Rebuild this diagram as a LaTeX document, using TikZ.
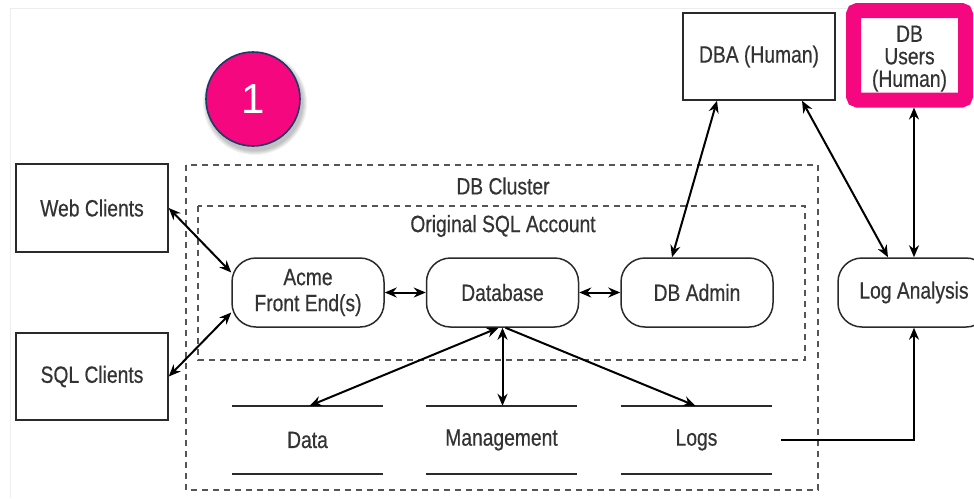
\documentclass[tikz,border=0pt]{standalone}
\usepackage{fontspec}
\setmainfont[FakeStretch=0.82,FakeBold=0.5]{Liberation Sans}
\newfontfamily\digitfont{Liberation Sans}
\usetikzlibrary{arrows.meta}
\definecolor{ink}{HTML}{2A2A2A}
\definecolor{txt}{HTML}{333333}
\definecolor{dashgray}{HTML}{555555}
\definecolor{hot}{HTML}{F4077F}
\definecolor{navy}{HTML}{1F3A68}
\begin{document}
\begin{tikzpicture}[x=1pt,y=-1pt,
  every node/.style={text=txt, font=\fontsize{23.5}{26}\selectfont, inner sep=0pt},
  sqbox/.style={draw=ink, line width=1.5pt, fill=white, minimum width=152pt, align=center},
  rbox/.style={draw=ink, line width=1.5pt, fill=white, rounded corners=24pt,
    minimum width=152pt, minimum height=69pt, align=center},
  store/.style={minimum width=151pt, minimum height=68pt},
  storeline/.style={draw=ink, line width=1.5pt},
  zone/.style={draw=dashgray, line width=1.4pt, dash pattern=on 6pt off 5pt},
  link/.style={draw=black, line width=2pt, {Stealth[length=12pt,width=10pt]}-{Stealth[length=12pt,width=10pt]}},
  flow/.style={draw=black, line width=2pt, -{Stealth[length=12pt,width=10pt]}},
]
\useasboundingbox (0,0) rectangle (974,498);
\fill[white] (0,0) rectangle (974,498);
% faint page frame
\draw[black!7, line width=1pt] (10,498) -- (10,8) -- (974,8);

% cluster and account zones
\draw[zone] (186,165) rectangle (818,490);
\draw[zone] (198,206) rectangle (805,360);
\node (clusterlabel) at (503,186) {DB Cluster};
\node (accountlabel) at (503,226) {Original SQL Account};

% step badge with soft shadow
\foreach \r in {52,51,50,49,48}
  \fill[black, opacity=0.05] (255,103) circle (\r pt);
\node[circle, minimum size=94pt, fill=hot, draw=navy, line width=1.6pt,
  text=white, font=\digitfont\fontsize{42}{42}\selectfont] (badge) at (253,99) {1};

% clients and humans
\node[sqbox, minimum height=88pt] (web) at (92,208) {Web Clients};
\node[sqbox, minimum height=87pt] (sql) at (92,376.5) {SQL Clients};
\node[sqbox, minimum height=87pt] (dba) at (759,56.5) {DBA (Human)};
\node[draw=hot, line width=15pt, outer sep=7.5pt, fill=white, rounded corners=4pt,
  minimum width=112pt, minimum height=89.5pt, align=center,
  font=\fontsize{23.5}{22.5}\selectfont] (users) at (909.5,55.25) {\rule{0pt}{23pt}DB\\Users\\(Human)};

% processes
\node[rbox] (acme) at (308,292.5) {Acme\\Front End(s)};
\node[rbox] (db) at (502.5,292.5) {Database};
\node[rbox] (admin) at (697,292.5) {DB Admin};
\node[rbox] (loga) at (914,292.5) {Log Analysis};

% data stores
\node[store] (data) at (307.5,440) {Data};
\node[store] (mgmt) at (501.5,440) {Management};
\node[store] (logs) at (696.5,440) {Logs};
\foreach \s in {data,mgmt,logs} {
  \draw[storeline] (\s.north west) -- (\s.north east);
  \draw[storeline] (\s.south west) -- (\s.south east);
}

% connectors
\draw[link] (web.east) -- ([yshift=20pt]acme.west);
\draw[link] (sql.east) -- ([yshift=-20pt]acme.west);
\draw[link] (acme.east) -- (db.west);
\draw[link] (db.east) -- (admin.west);
\draw[link] ([xshift=-4pt]db.south) -- ([xshift=2pt]data.north);
\draw[link] (db.south) -- (db.south |- mgmt.north);
\draw[flow] ([xshift=3pt]db.south) -- ([xshift=-1pt]logs.north);
\draw[flow] ([xshift=9pt]logs.east) -| (loga.south);
\draw[link] ([xshift=-42pt]dba.south) -- ([xshift=-25pt]admin.north);
\draw[link] ([xshift=43pt]dba.south) -- ([xshift=-26pt]loga.north);
\draw[link] (loga.north |- users.south) -- (loga.north);
\end{tikzpicture}
\end{document}
